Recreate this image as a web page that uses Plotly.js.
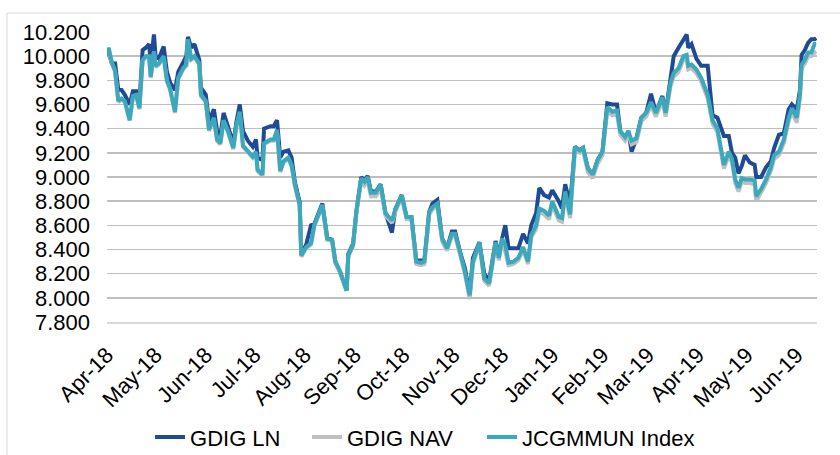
<!DOCTYPE html>
<html>
<head>
<meta charset="utf-8">
<script src="https://cdn.plot.ly/plotly-3.0.1.min.js"></script>
<style>
html,body{margin:0;padding:0;background:#fff;}
#chart{width:840px;height:455px;}
</style>
</head>
<body>
<div id="chart"></div>
<script>
var dates = [
'2018-04-01','2018-04-02','2018-04-04','2018-04-06','2018-04-08','2018-04-10','2018-04-12','2018-04-15','2018-04-17','2018-04-19','2018-04-21','2018-04-23','2018-04-25','2018-04-27','2018-04-28','2018-04-30',
'2018-05-01','2018-05-03','2018-05-06','2018-05-08','2018-05-10','2018-05-13','2018-05-15','2018-05-18','2018-05-20','2018-05-21','2018-05-23','2018-05-25','2018-05-28','2018-05-29',
'2018-06-01','2018-06-03','2018-06-06','2018-06-08','2018-06-10','2018-06-12','2018-06-15','2018-06-18','2018-06-20','2018-06-22','2018-06-24','2018-06-27','2018-06-30',
'2018-07-02','2018-07-03','2018-07-06','2018-07-07','2018-07-11','2018-07-13','2018-07-15','2018-07-17','2018-07-19','2018-07-22','2018-07-24','2018-07-26','2018-07-29','2018-07-30',
'2018-08-02','2018-08-05','2018-08-07','2018-08-12','2018-08-15','2018-08-18','2018-08-20','2018-08-23','2018-08-27','2018-08-28','2018-08-31',
'2018-09-02','2018-09-05','2018-09-07','2018-09-09','2018-09-11','2018-09-14','2018-09-17','2018-09-20','2018-09-24','2018-09-26','2018-09-30',
'2018-10-03','2018-10-06','2018-10-09','2018-10-12','2018-10-14','2018-10-17','2018-10-19','2018-10-22','2018-10-25','2018-10-28','2018-10-31',
'2018-11-02','2018-11-05','2018-11-08','2018-11-11','2018-11-13','2018-11-17','2018-11-20','2018-11-23','2018-11-27','2018-11-29',
'2018-12-01','2018-12-03','2018-12-05','2018-12-08','2018-12-11','2018-12-14','2018-12-17','2018-12-19','2018-12-22','2018-12-24','2018-12-27','2018-12-30',
'2019-01-01','2019-01-05','2019-01-07','2019-01-09','2019-01-12','2019-01-15','2019-01-18','2019-01-20','2019-01-23','2019-01-26','2019-01-29',
'2019-02-01','2019-02-04','2019-02-07','2019-02-10','2019-02-12','2019-02-15','2019-02-17','2019-02-19','2019-02-22','2019-02-25','2019-02-28',
'2019-03-03','2019-03-06','2019-03-08','2019-03-10','2019-03-12','2019-03-15','2019-03-17','2019-03-20','2019-03-23','2019-03-25','2019-03-26','2019-03-28','2019-03-31',
'2019-04-03','2019-04-07','2019-04-10','2019-04-13','2019-04-17','2019-04-20','2019-04-22','2019-04-24','2019-04-26','2019-04-28','2019-04-30',
'2019-05-03','2019-05-06','2019-05-07','2019-05-10','2019-05-13','2019-05-16','2019-05-18','2019-05-21','2019-05-24','2019-05-27','2019-05-29',
'2019-06-01','2019-06-03','2019-06-04','2019-06-06','2019-06-08','2019-06-10','2019-06-12','2019-06-13'
];

var gdigLN = [
10.00,10.03,9.94,9.94,9.72,9.72,9.68,9.60,9.71,9.71,9.61,10.05,10.07,10.10,9.94,10.18,
10.00,9.98,10.08,9.87,9.78,9.72,9.87,9.94,10.00,10.16,10.07,10.10,9.97,9.74,
9.68,9.46,9.56,9.38,9.34,9.53,9.41,9.28,9.46,9.60,9.38,9.30,9.25,
9.31,9.16,9.14,9.40,9.42,9.42,9.47,9.16,9.21,9.22,9.16,8.96,8.79,8.36,
8.44,8.60,8.61,8.78,8.50,8.48,8.30,8.21,8.06,8.36,8.45,
8.71,9.00,8.97,9.01,8.88,8.88,8.94,8.70,8.54,8.73,8.85,
8.67,8.67,8.31,8.31,8.31,8.71,8.78,8.81,8.49,8.41,8.55,
8.55,8.38,8.25,8.03,8.33,8.46,8.20,8.14,8.47,8.35,
8.49,8.60,8.41,8.41,8.41,8.53,8.45,8.60,8.70,8.91,8.85,8.83,
8.89,8.80,8.74,8.94,8.77,9.25,9.22,9.24,9.07,9.02,9.14,
9.21,9.61,9.60,9.60,9.38,9.32,9.38,9.21,9.32,9.49,9.53,
9.69,9.53,9.60,9.67,9.53,9.83,10.00,10.07,10.14,10.18,10.07,10.10,9.98,
9.92,9.92,9.51,9.49,9.34,9.34,9.20,9.16,9.03,9.09,9.18,
9.12,9.10,9.00,9.00,9.08,9.13,9.24,9.35,9.36,9.56,9.60,
9.56,9.72,10.01,10.05,10.11,10.14,10.14,10.15
];

var gdigNAV = [
9.99,10.05,9.94,9.87,9.62,9.64,9.62,9.47,9.66,9.67,9.56,9.96,9.99,9.99,9.82,10.03,
9.91,9.93,9.99,9.79,9.72,9.53,9.81,9.89,9.92,10.12,9.97,9.99,9.93,9.67,
9.62,9.38,9.48,9.30,9.27,9.46,9.36,9.23,9.42,9.53,9.25,9.20,9.16,
9.20,9.05,9.01,9.27,9.30,9.30,9.38,9.04,9.12,9.15,9.09,8.93,8.76,8.34,
8.41,8.44,8.59,8.76,8.48,8.47,8.29,8.21,8.06,8.34,8.43,
8.70,8.97,8.93,8.97,8.84,8.84,8.91,8.68,8.62,8.71,8.83,
8.65,8.65,8.28,8.27,8.28,8.69,8.73,8.76,8.47,8.39,8.51,
8.51,8.36,8.20,7.99,8.28,8.44,8.14,8.10,8.44,8.31,
8.47,8.38,8.27,8.28,8.31,8.40,8.28,8.50,8.57,8.71,8.69,8.65,
8.77,8.64,8.63,8.85,8.66,9.23,9.20,9.22,9.04,8.99,9.11,
9.18,9.55,9.51,9.52,9.35,9.30,9.35,9.27,9.29,9.46,9.50,
9.59,9.50,9.57,9.63,9.50,9.75,9.83,9.87,9.97,9.97,9.89,9.90,9.86,
9.79,9.65,9.44,9.37,9.07,9.18,9.12,8.95,8.88,8.96,8.95,
8.95,8.94,8.80,8.87,8.95,9.05,9.15,9.18,9.28,9.46,9.54,
9.45,9.66,9.90,9.94,10.00,10.00,10.03,10.04
];

var jcgmmun = [
10.00,10.07,9.95,9.88,9.63,9.65,9.63,9.47,9.67,9.68,9.57,9.97,10.00,10.00,9.83,10.04,
9.92,9.94,10.00,9.80,9.73,9.54,9.82,9.90,9.93,10.14,9.98,10.00,9.94,9.68,
9.63,9.39,9.49,9.31,9.28,9.47,9.37,9.24,9.43,9.54,9.26,9.21,9.17,
9.21,9.06,9.02,9.28,9.31,9.31,9.39,9.05,9.13,9.16,9.10,8.94,8.77,8.35,
8.42,8.45,8.60,8.77,8.49,8.48,8.30,8.22,8.06,8.35,8.44,
8.71,8.99,8.96,9.00,8.87,8.87,8.94,8.70,8.64,8.73,8.85,
8.67,8.67,8.30,8.29,8.30,8.71,8.75,8.78,8.49,8.41,8.53,
8.53,8.38,8.22,8.02,8.30,8.46,8.16,8.12,8.46,8.33,
8.49,8.44,8.29,8.30,8.33,8.42,8.30,8.52,8.60,8.74,8.72,8.68,
8.80,8.67,8.66,8.88,8.69,9.25,9.22,9.24,9.07,9.02,9.14,
9.21,9.58,9.54,9.55,9.38,9.33,9.38,9.30,9.32,9.49,9.53,
9.62,9.53,9.60,9.66,9.53,9.78,9.86,9.90,10.00,10.01,9.92,9.93,9.89,
9.82,9.68,9.47,9.40,9.10,9.21,9.15,8.98,8.91,8.99,8.98,
8.98,8.97,8.84,8.90,8.98,9.08,9.18,9.21,9.31,9.49,9.57,
9.49,9.69,9.93,9.97,10.03,10.03,10.10,10.10
];

var seriesNames = ['GDIG LN', 'GDIG NAV', 'JCGMMUN Index'];
var seriesColors = ['#1F4A96', '#BFBFBF', '#3BA8BC'];
var seriesValues = [gdigLN, gdigNAV, jcgmmun];

var FONT = 'Liberation Sans, Arial, sans-serif';
var FS = 22;
var legendIds = ['legend', 'legend2', 'legend3'];
var legendX = [0.0606, 0.2817, 0.5282];

var traces = seriesValues.map(function (vals, i) {
  return {
    type: 'scatter',
    mode: 'lines',
    name: seriesNames[i],
    legend: legendIds[i],
    x: dates,
    y: vals,
    line: {color: seriesColors[i], width: 4}
  };
});

var layout = {
  width: 840,
  height: 455,
  margin: {l: 107, r: 23, t: 32, b: 133, autoexpand: false},
  paper_bgcolor: '#ffffff',
  plot_bgcolor: '#ffffff',
  font: {family: FONT, size: FS, color: '#000000'},
  showlegend: true,
  xaxis: {
    type: 'date',
    range: ['2018-04-01', '2019-06-13 12:00'],
    tick0: '2018-04-01',
    dtick: 'M1',
    tickformat: '%b-%y',
    tickangle: -45,
    ticks: '',
    ticklabelstandoff: 10,
    automargin: false,
    showgrid: false,
    zeroline: false,
    showline: true,
    linecolor: '#D9D9D9',
    linewidth: 1.5,
    tickfont: {family: FONT, size: FS, color: '#000000'}
  },
  yaxis: {
    range: [7.8, 10.2],
    tick0: 7.8,
    dtick: 0.2,
    tickformat: '.3f',
    ticks: '',
    automargin: false,
    showgrid: true,
    gridcolor: '#BFBFBF',
    gridwidth: 1.5,
    zeroline: false,
    showline: false,
    ticklabelstandoff: 16,
    tickfont: {family: FONT, size: FS, color: '#000000'}
  },
  shapes: [{
    type: 'rect', xref: 'paper', yref: 'paper',
    x0: -0.1408, x1: 1.045, y0: -0.48, y1: 1.0655,
    line: {color: '#D9D9D9', width: 1}, fillcolor: 'rgba(0,0,0,0)', layer: 'below'
  }]
};

legendIds.forEach(function (id, i) {
  layout[id] = {
    orientation: 'h',
    x: legendX[i], xanchor: 'left',
    y: -0.397, yanchor: 'middle',
    font: {family: FONT, size: FS, color: '#000000'},
    itemwidth: 30,
    bgcolor: 'rgba(0,0,0,0)'
  };
});

Plotly.newPlot('chart', traces, layout, {displayModeBar: false, staticPlot: true});
</script>
</body>
</html>
